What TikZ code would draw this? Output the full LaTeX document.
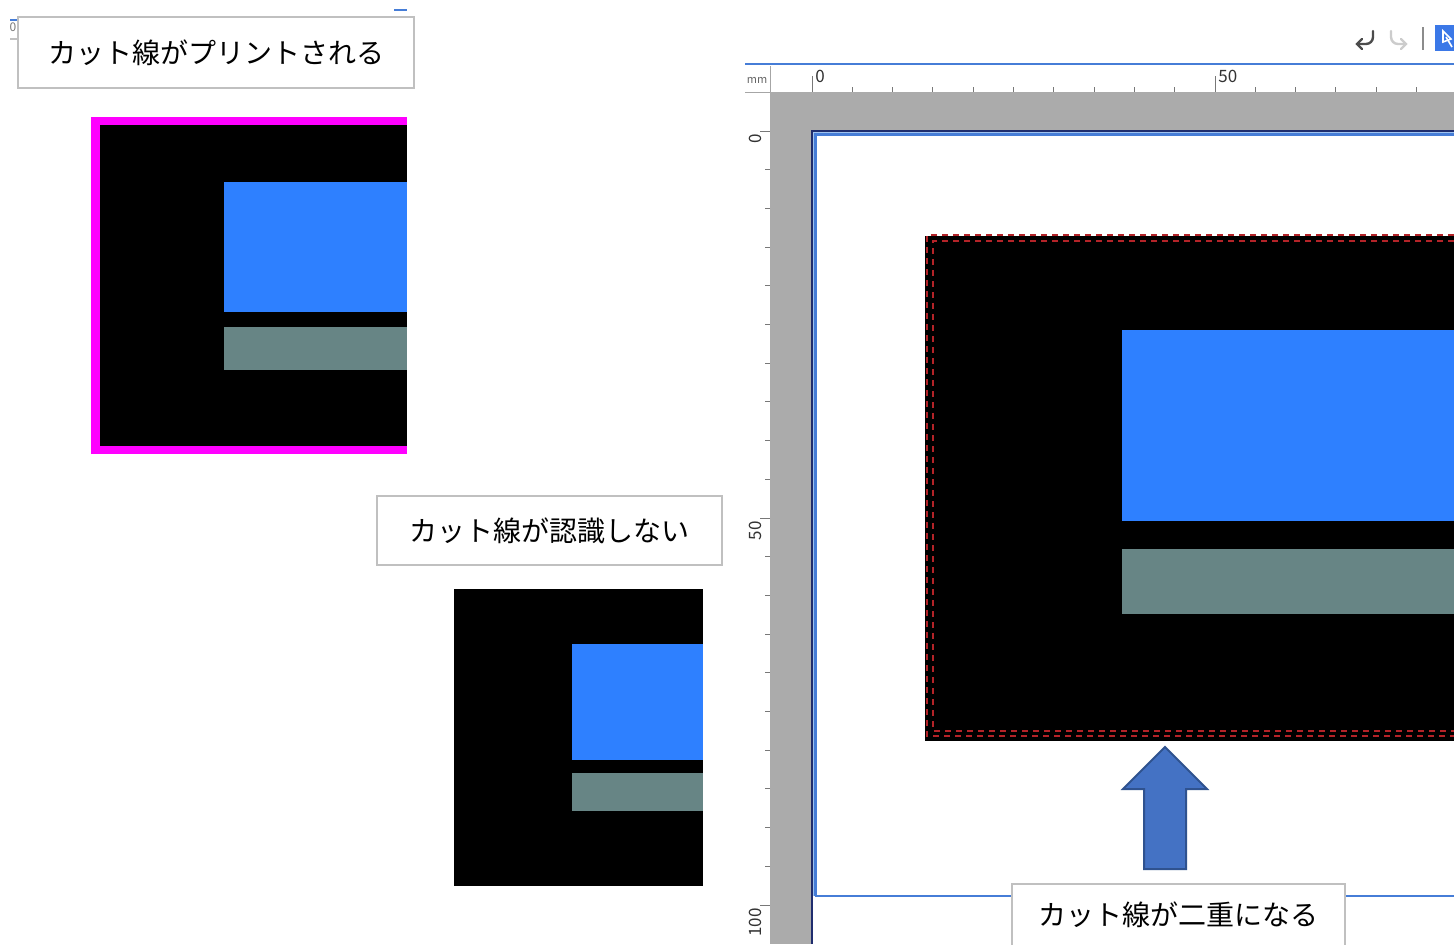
\documentclass[tikz,border=0pt]{standalone}
\usepackage{fontspec}
\setmainfont{Noto Sans CJK JP}
\definecolor{magentaC}{RGB}{255,0,255}
\definecolor{blueC}{RGB}{46,128,255}
\definecolor{grayC}{RGB}{103,133,133}
\definecolor{boxedge}{RGB}{192,192,192}
\definecolor{rulergray}{RGB}{171,171,171}
\definecolor{navyC}{RGB}{31,45,110}
\definecolor{printblue}{RGB}{70,125,215}
\definecolor{lightblue}{RGB}{160,195,240}
\definecolor{cutred}{RGB}{180,35,40}
\definecolor{arrowfill}{RGB}{68,114,196}
\definecolor{arrowedge}{RGB}{47,82,143}
\definecolor{tickgray}{RGB}{120,120,120}
\definecolor{iconblue}{RGB}{59,120,231}
\tikzset{
  labelbox/.style={draw=boxedge, line width=1pt, fill=white, inner sep=0pt,
    font=\fontsize{14}{16}\selectfont, text=black},
  lbltext/.style={font=\fontsize{14}{16}\selectfont, text=black, inner sep=0pt},
  cutline/.style={draw=cutred, line width=1pt, dash pattern=on 3pt off 2.5pt},
  rulernum/.style={font=\fontsize{8.5}{9}\selectfont, text=black!80, inner sep=0pt},
  tick/.style={draw=tickgray, line width=0.5pt},
}
\begin{document}
\begin{tikzpicture}[x=0.5pt,y=-0.5pt]
\useasboundingbox (0,0) rectangle (1454,944);
\fill[white] (0,0) rectangle (1454,944);

% ---------- top-left artefacts ----------
\draw[printblue, line width=0.6pt] (10,20) -- (18,20);
\node[rulernum, text=tickgray, font=\fontsize{6}{7}\selectfont] (zeroTL) at (13,27) {0};
\draw[boxedge, line width=0.6pt] (10,39) -- (18,39);
\draw[printblue, line width=1pt] (394,10) -- (407,10);

% ---------- panel 1: cut line printed ----------
\node[labelbox, minimum width=198pt, minimum height=35.5pt] (box1) at (216,52.5) {カット線がプリントされる};
\fill[magentaC] (91,117) rectangle (407,454);
\fill[black] (100,125) rectangle (407,446);
\fill[blueC] (224,182) rectangle (407,312);
\fill[grayC] (224,327) rectangle (407,370);

% ---------- panel 2: cut line not recognised ----------
\node[labelbox, minimum width=172.5pt, minimum height=34.5pt] (box2) at (549.5,530.5) {カット線が認識しない};
\fill[black] (454,589) rectangle (703,886);
\fill[blueC] (572,644) rectangle (703,760);
\fill[grayC] (572,773) rectangle (703,811);

% ---------- panel 3: editor screenshot ----------
% toolbar icons
\draw[black!70, line width=1.2pt, line cap=round] (1373,31) -- (1373,37) arc[start angle=0, end angle=90, radius=7] -- (1358,44);
\draw[black!70, line width=1.2pt, line cap=round] (1362,39) -- (1357,44) -- (1362,49);
\draw[black!20, line width=1.2pt, line cap=round] (1391,31) -- (1391,37) arc[start angle=180, end angle=90, radius=7] -- (1405,44);
\draw[black!20, line width=1.2pt, line cap=round] (1401,39) -- (1406,44) -- (1401,49);
\draw[black!45, line width=0.6pt] (1423,27) -- (1423,50);
\fill[iconblue] (1435,25) rectangle (1454,51);
\draw[white, line width=0.8pt] (1443,42) -- (1443,31) -- (1451,39) -- cycle;
\draw[white, line width=0.8pt] (1446,37) -- (1452,47);

% top blue line
\draw[printblue, line width=1.3pt] (745,64) -- (1454,64);

% rulers
\fill[rulergray] (770,92) rectangle (1454,944);
\draw[black!35, line width=0.4pt] (770,66) -- (770,92);
\draw[black!35, line width=0.4pt] (745,92) -- (770,92);
\node[rulernum, font=\fontsize{5.5}{6}\selectfont, text=black!60] (mmlabel) at (757,80) {mm};
% horizontal ruler ticks
\foreach \i in {0,...,15}{
  \pgfmathsetmacro{\xx}{812+40.3*\i}
  \draw[tick] (\xx,87) -- (\xx,92);
}
\draw[tick] (812,76) -- (812,92);
\draw[tick] (1215,76) -- (1215,92);
\node[rulernum, anchor=west] (h0) at (815,76) {0};
\node[rulernum, anchor=west] (h50) at (1218,76) {50};
% vertical ruler ticks
\foreach \i in {0,...,20}{
  \pgfmathsetmacro{\yy}{131+38.7*\i}
  \draw[tick] (765,\yy) -- (770,\yy);
}
\draw[tick] (760,131) -- (770,131);
\draw[tick] (760,518) -- (770,518);
\draw[tick] (760,905) -- (770,905);
\node[rulernum, rotate=90, anchor=east] (v0) at (755,134) {0};
\node[rulernum, rotate=90, anchor=east] (v50) at (755,521) {50};
\node[rulernum, rotate=90, anchor=east] (v100) at (755,908) {100};

% page
\fill[white] (812,131) rectangle (1454,944);
\draw[navyC, line width=1pt] (812,944) -- (812,131) -- (1454,131);
\draw[lightblue, line width=0.7pt] (813.8,896) -- (813.8,132.8) -- (1454,132.8);
\draw[printblue, line width=1.3pt] (815.5,896) -- (815.5,134.5) -- (1454,134.5);
\draw[printblue, line width=1.4pt] (815,896) -- (1454,896);

% artwork
\fill[black] (925,236) rectangle (1454,741);
\fill[blueC] (1122,330) rectangle (1454,521);
\fill[grayC] (1122,549) rectangle (1454,614);
\draw[cutline] (1454,235) -- (927,235) -- (927,736) -- (1454,736);
\draw[cutline] (1454,241) -- (933,241) -- (933,731) -- (1454,731);

% block arrow
\draw[fill=arrowfill, draw=arrowedge, line width=1pt, line join=miter]
  (1165,747) -- (1207,789) -- (1186,789) -- (1186,869) -- (1144,869) -- (1144,789) -- (1123,789) -- cycle;

% label box 3
\draw[boxedge, line width=1pt, fill=white] (1012,960) -- (1012,884) -- (1345,884) -- (1345,960);
\node[lbltext] (box3) at (1178.5,915) {カット線が二重になる};
\end{tikzpicture}
\end{document}
